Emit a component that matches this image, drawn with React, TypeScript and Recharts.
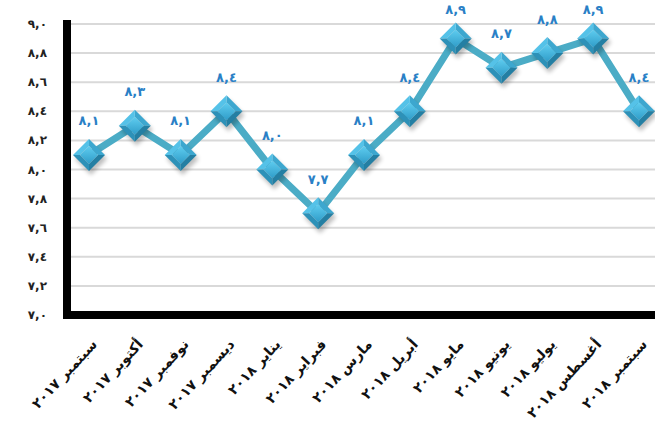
import React from 'react'
import { LineChart, Line, XAxis, YAxis, CartesianGrid, LabelList } from 'recharts'

const months = [
  'سبتمبر', 'أكتوبر', 'نوفمبر', 'ديسمبر', 'يناير', 'فبراير', 'مارس',
  'أبريل', 'مايو', 'يونيو', 'يوليو', 'أغسطس', 'سبتمبر',
]
const years = [
  '٢٠١٧', '٢٠١٧', '٢٠١٧', '٢٠١٧', '٢٠١٨', '٢٠١٨', '٢٠١٨',
  '٢٠١٨', '٢٠١٨', '٢٠١٨', '٢٠١٨', '٢٠١٨', '٢٠١٨',
]
const values = [8.1, 8.3, 8.1, 8.4, 8.0, 7.7, 8.1, 8.4, 8.9, 8.7, 8.8, 8.9, 8.4]
const yTicks = [7.0, 7.2, 7.4, 7.6, 7.8, 8.0, 8.2, 8.4, 8.6, 8.8, 9.0]

const data = months.map((m, i) => ({ name: m, year: years[i], value: values[i] }))

const FONT = '"DejaVu Sans", sans-serif'
const LINE_COLOR = '#4BACC6'

// 7.9 -> "٧,٩"
const arabicNum = (n: number) =>
  n.toFixed(1).replace('.', ',').replace(/\d/g, (d) => '٠١٢٣٤٥٦٧٨٩'[+d])

const YTick = ({ x, y, payload }: any) => (
  <text
    x={x - 20}
    y={y}
    textAnchor="end"
    dominantBaseline="central"
    fontFamily={FONT}
    fontWeight="bold"
    fontSize={12}
    letterSpacing={2}
    fill="#222"
  >
    {arabicNum(payload.value)}
  </text>
)

const XTick = ({ x, y, payload, index }: any) => (
  <g transform={`translate(${x + 9},${y + 30})`}>
    <text
      transform="rotate(-47)"
      textAnchor="end"
      fontFamily={FONT}
      fontWeight="bold"
      fontSize={14}
      fill="#111"
    >
      <tspan>{payload.value} </tspan>
      <tspan letterSpacing={2}>{years[index]}</tspan>
    </text>
  </g>
)

// bevelled diamond marker
const Diamond = ({ cx, cy, index }: any) => {
  if (cx == null || cy == null) return null
  const r = 16
  const s = 9
  const top = `${cx},${cy - r}`
  const right = `${cx + r},${cy}`
  const bottom = `${cx},${cy + r}`
  const left = `${cx - r},${cy}`
  const it = `${cx},${cy - s}`
  const ir = `${cx + s},${cy}`
  const ib = `${cx},${cy + s}`
  const il = `${cx - s},${cy}`
  return (
    <g key={`d-${index}`}>
      <polygon
        points={`${cx + 2},${cy - r + 4} ${cx + r + 2},${cy + 4} ${cx + 2},${cy + r + 4} ${cx - r + 2},${cy + 4}`}
        fill="#000"
        opacity={0.25}
        filter="url(#diaBlur)"
      />
      <polygon points={`${top} ${right} ${ir} ${it}`} fill="#3DA7CF" />
      <polygon points={`${top} ${it} ${il} ${left}`} fill="#55C2E8" />
      <polygon points={`${left} ${il} ${ib} ${bottom}`} fill="#2D91B8" />
      <polygon points={`${right} ${bottom} ${ib} ${ir}`} fill="#247FA3" />
      <polygon points={`${it} ${ir} ${ib} ${il}`} fill="url(#diaFace)" />
    </g>
  )
}

// value above each marker, kept inside the top edge
const ValueLabel = ({ x, y, value }: any) => (
  <text
    x={x}
    y={Math.max(y - 34, 9)}
    textAnchor="middle"
    dominantBaseline="central"
    fontFamily={FONT}
    fontWeight="bold"
    fontSize={13}
    letterSpacing={2}
    fill="#2A80C6"
  >
    {arabicNum(value)}
  </text>
)

export default function App() {
  return (
    <div style={{ position: 'absolute', left: 0, top: 0, width: 655, height: 424, overflow: 'hidden', background: '#fff' }}>
      <svg width={0} height={0} style={{ position: 'absolute' }}>
        <defs>
          <linearGradient id="diaFace" x1="0" y1="0" x2="0" y2="1">
            <stop offset="0%" stopColor="#5FCDF0" />
            <stop offset="100%" stopColor="#2F9CC8" />
          </linearGradient>
          <filter id="diaBlur" x="-50%" y="-50%" width="200%" height="200%">
            <feGaussianBlur stdDeviation="2" />
          </filter>
        </defs>
      </svg>
      <LineChart
        width={665}
        height={424}
        data={data}
        margin={{ top: 24, right: 4, bottom: 0, left: 7 }}
      >
        <CartesianGrid vertical={false} stroke="#D9D9D9" strokeWidth={2} />
        <XAxis
          dataKey="name"
          interval={0}
          height={109}
          padding={{ left: 22, right: 22 }}
          tickLine={false}
          tickSize={0}
          tickMargin={0}
          axisLine={{ stroke: '#000', strokeWidth: 8, strokeLinecap: 'square' }}
          tick={<XTick />}
        />
        <YAxis
          domain={[7, 9]}
          ticks={yTicks}
          width={60}
          tickLine={false}
          tickSize={0}
          tickMargin={0}
          axisLine={{ stroke: '#000', strokeWidth: 8, strokeLinecap: 'square' }}
          tick={<YTick />}
        />
        <Line
          type="linear"
          dataKey="value"
          stroke={LINE_COLOR}
          strokeWidth={7}
          dot={<Diamond />}
          activeDot={false}
          isAnimationActive={false}
        >
          <LabelList dataKey="value" content={<ValueLabel />} />
        </Line>
      </LineChart>
    </div>
  )
}
